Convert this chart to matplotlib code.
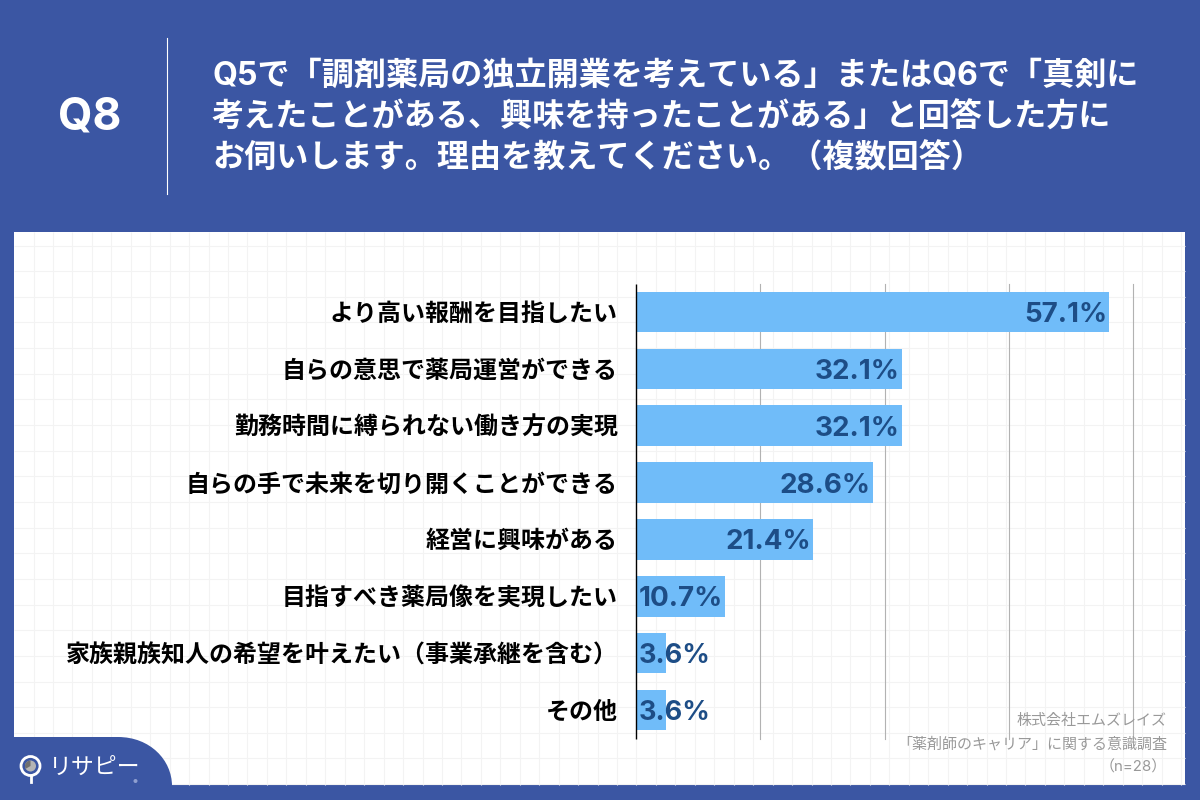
import numpy as np
import matplotlib
matplotlib.use('Agg')
import matplotlib.pyplot as plt
from matplotlib.patches import Circle, PathPatch, Rectangle, Wedge
from matplotlib.path import Path

plt.rcParams['font.family'] = ['Inter', 'Noto Sans CJK JP', 'DejaVu Sans']

categories = [
    'より高い報酬を目指したい',
    '自らの意思で薬局運営ができる',
    '勤務時間に縛られない働き方の実現',
    '自らの手で未来を切り開くことができる',
    '経営に興味がある',
    '目指すべき薬局像を実現したい',
    '家族親族知人の希望を叶えたい（事業承継を含む）',
    'その他',
]
values = [57.1, 32.1, 32.1, 28.6, 21.4, 10.7, 3.6, 3.6]
x_ticks = [15, 30, 45, 60]

question_no = 'Q8'
question_lines = [
    'Q5で「調剤薬局の独立開業を考えている」またはQ6で「真剣に',
    '考えたことがある、興味を持ったことがある」と回答した方に',
    'お伺いします。理由を教えてください。（複数回答）',
]
source_lines = ['株式会社エムズレイズ', '「薬剤師のキャリア」に関する意識調査', '（n=28）']

BLUE = '#3b56a3'
BAR = '#70bcf9'
LABEL = '#1d4d86'

fig = plt.figure(figsize=(12, 8), dpi=100, facecolor=BLUE)

# page layer in pixel coords
bg = fig.add_axes([0, 0, 1, 1])
bg.set_xlim(0, 1200)
bg.set_ylim(800, 0)
bg.axis('off')
bg.add_patch(Rectangle((14, 232), 1171, 553, facecolor='white', edgecolor='none', zorder=1))
for gx in np.arange(33.5, 1185, 19.45):
    bg.plot([gx, gx], [232, 785], color='#f3f3f3', lw=0.8, zorder=2, solid_capstyle='butt')
for gy in np.arange(245.5, 785, 25.65):
    bg.plot([14, 1185], [gy, gy], color='#f3f3f3', lw=0.8, zorder=2, solid_capstyle='butt')

# header
bg.plot([167, 167], [38, 194], color='white', lw=0.8, zorder=3)
bg.text(90, 118, question_no, color='white', fontsize=32, fontweight='bold',
        ha='center', va='center', zorder=3)
for line, y in zip(question_lines, [76, 118, 159]):
    bg.text(212, y, line, color='white', fontsize=23.1, fontweight='bold',
            ha='left', va='center', zorder=3)

# logo tab
verts = [(14, 737), (118, 737), (150, 737), (172, 760), (172, 786), (14, 786), (14, 737)]
codes = [Path.MOVETO, Path.LINETO, Path.CURVE4, Path.CURVE4, Path.CURVE4, Path.LINETO, Path.CLOSEPOLY]
bg.add_patch(PathPatch(Path(verts, codes), facecolor=BLUE, edgecolor='none', zorder=3))
bg.add_patch(Circle((30.5, 766), 9.5, facecolor='none', edgecolor='white', lw=2, zorder=4))
bg.add_patch(Circle((30.5, 766), 5.5, facecolor='#b5b5b5', edgecolor='none', zorder=4))
bg.add_patch(Wedge((30.5, 766), 5.5, 150, 270, facecolor='#6f6f6f', edgecolor='none', zorder=4))
bg.plot([30.5, 30.5], [776, 782], color='white', lw=2, zorder=4)
bg.text(95, 768, 'リサピー', color='white', fontsize=16.5, ha='center', va='center', zorder=4)
bg.add_patch(Circle((135.5, 781), 2, facecolor='#8f9fd0', edgecolor='none', zorder=4))

# chart
ax = fig.add_axes([636 / 1200, 1 - 738.5 / 800, 497 / 1200, 455 / 800])
ax.patch.set_alpha(0)
y = np.arange(len(categories))
ax.barh(y, values, height=0.71, color=BAR, zorder=3)
ax.set_xlim(0, 60)
ax.set_ylim(len(categories) - 0.5, -0.5)
ax.set_yticks(y)
ax.set_yticklabels(categories, fontsize=17.25, fontweight='bold', color='black', va='center_baseline')
ax.set_xticks([])
ax.tick_params(axis='y', length=0, pad=13)
for t in x_ticks:
    ax.axvline(t, color='#b2b2b2', lw=0.8, zorder=1, clip_on=False)
for spine in ['top', 'right', 'bottom']:
    ax.spines[spine].set_visible(False)
ax.spines['left'].set_color('black')
ax.spines['left'].set_linewidth(1)
ax.spines['left'].set_capstyle('butt')
ax.spines['left'].set_zorder(5)

for i, v in enumerate(values):
    if v < 5:
        ax.text(0.35, i, f'{v}%', color=LABEL, fontsize=19.5, fontweight='bold',
                ha='left', va='center_baseline', zorder=4)
    else:
        ax.text(v - 0.25, i, f'{v}%', color=LABEL, fontsize=20, fontweight='bold',
                ha='right', va='center_baseline', zorder=4)

# source note, above the chart gridlines
for line, sy, sx in zip(source_lines, [721, 744, 767], [1167, 1167, 1167]):
    fig.text(sx / 1200, 1 - sy / 800, line, color='#999999', fontsize=10.8,
             ha='right', va='center', zorder=10)

fig.savefig('out.png', dpi=100, facecolor=BLUE)
